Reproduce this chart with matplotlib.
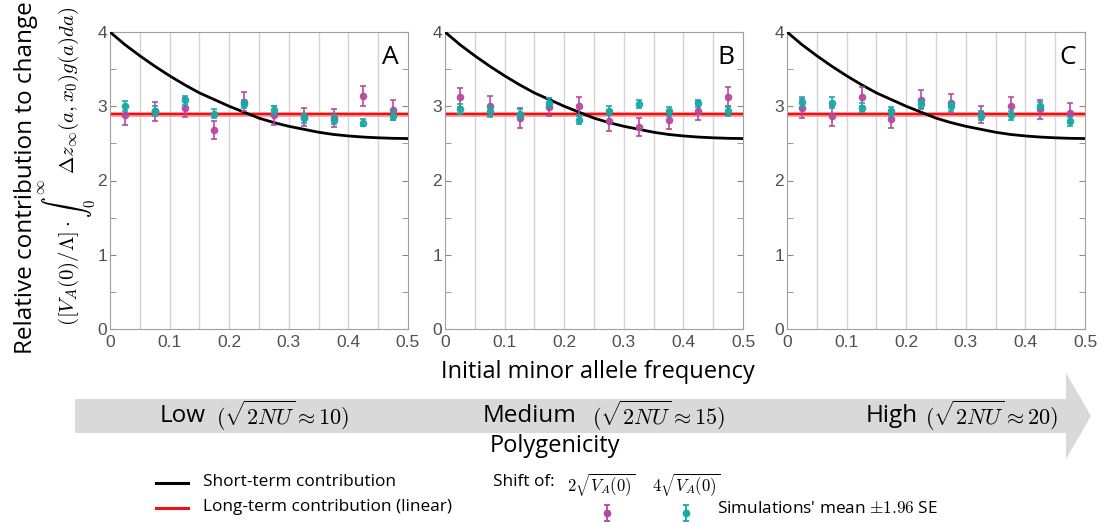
import numpy as np
import matplotlib.pyplot as plt
from matplotlib.patches import Polygon

plt.rcParams['mathtext.fontset'] = 'cm'
plt.rcParams['font.family'] = ['Open Sans', 'DejaVu Sans']

# bin centres of initial minor allele frequency
freq = [0.025, 0.075, 0.125, 0.175, 0.225, 0.275, 0.325, 0.375, 0.425, 0.475]

# short-term contribution curve
curve_x = [0, 0.025, 0.05, 0.075, 0.1, 0.125, 0.15, 0.175, 0.2, 0.225, 0.25,
           0.275, 0.3, 0.325, 0.35, 0.375, 0.4, 0.425, 0.45, 0.475, 0.5]
curve_y = [4.0, 3.83, 3.68, 3.54, 3.41, 3.29, 3.18, 3.09, 3.00, 2.92, 2.84,
           2.78, 2.73, 2.69, 2.65, 2.62, 2.60, 2.585, 2.575, 2.568, 2.565]
long_term = 2.9

# simulations, shift 2*sqrt(VA(0)) (magenta) and 4*sqrt(VA(0)) (teal)
mag_A = [2.88, 2.93, 2.98, 2.68, 3.06, 2.88, 2.86, 2.84, 3.14, 2.95]
teal_A = [3.00, 2.94, 3.08, 2.90, 3.03, 2.95, 2.84, 2.82, 2.78, 2.87]
mag_B = [3.12, 3.01, 2.84, 2.99, 3.00, 2.80, 2.72, 2.81, 2.94, 3.13]
teal_B = [2.96, 2.93, 2.90, 3.05, 2.82, 2.94, 3.03, 2.93, 3.04, 2.93]
mag_C = [2.97, 2.87, 3.13, 2.83, 3.09, 3.04, 2.89, 3.01, 2.96, 2.91]
teal_C = [3.06, 3.05, 2.98, 2.93, 3.03, 3.00, 2.87, 2.88, 3.01, 2.80]
mag_err = [0.13, 0.13, 0.13, 0.12, 0.13, 0.13, 0.12, 0.12, 0.13, 0.13]
teal_err = [0.07, 0.07, 0.06, 0.06, 0.06, 0.06, 0.06, 0.06, 0.05, 0.06]

panels = ['A', 'B', 'C']
mags = [mag_A, mag_B, mag_C]
teals = [teal_A, teal_B, teal_C]

c_mag = '#b5479f'
c_teal = '#16a9a6'

W, H = 1113, 523
fig = plt.figure(figsize=(W / 100, H / 100), dpi=100)

lefts = [110, 445, 787]
axs = []
for left, letter, mg, tl in zip(lefts, panels, mags, teals):
    ax = fig.add_axes([left / W, 1 - 329 / H, 298 / W, 297 / H])
    for gx in np.arange(0.05, 0.5, 0.05):
        ax.axvline(gx, color='#d4d4d4', lw=1, zorder=0)
    ax.plot(curve_x, curve_y, color='black', lw=2, zorder=3)
    ax.axhline(long_term, color='#ff9a9a', lw=3.4, zorder=2)
    ax.axhline(long_term, color='#ee1111', lw=1.6, zorder=2)
    ax.errorbar(freq, mg, yerr=mag_err, fmt='o', ms=4.5, color=c_mag,
                ecolor=c_mag, elinewidth=1.3, capsize=2, capthick=1.3,
                alpha=0.9, zorder=4)
    ax.errorbar(freq, tl, yerr=teal_err, fmt='o', ms=4.5, color=c_teal,
                ecolor=c_teal, elinewidth=1.3, capsize=2, capthick=1.3,
                alpha=0.9, zorder=5)
    ax.set_xlim(0, 0.5)
    ax.set_ylim(0, 4)
    ax.set_xticks([0, 0.1, 0.2, 0.3, 0.4, 0.5])
    ax.set_xticklabels(['0', '0.1', '0.2', '0.3', '0.4', '0.5'])
    ax.set_yticks([0, 1, 2, 3, 4])
    ax.set_yticks(np.arange(0.5, 4, 1), minor=True)
    ax.tick_params(axis='both', which='both', direction='in', colors='#888888',
                   labelcolor='#505050', labelsize=12.5, right=True, top=False,
                   length=4, pad=2)
    ax.tick_params(axis='x', length=0, pad=4)
    for lbl in ax.get_xticklabels() + ax.get_yticklabels():
        lbl.set_family('Liberation Sans')
    for sp in ax.spines.values():
        sp.set_color('#a0a0a0')
    ax.text(0.97, 0.955, letter, transform=ax.transAxes, ha='right', va='top',
            fontsize=19)
    axs.append(ax)

# overlay in pixel coordinates for the annotations below the panels
lax = fig.add_axes([0, 0, 1, 1], zorder=-1)
lax.set_xlim(0, W)
lax.set_ylim(H, 0)
lax.axis('off')

lax.text(26, 178, 'Relative contribution to change', rotation=90,
         ha='center', va='center', fontsize=17.5)
lax.text(68, 166,
         r'$([V_A(0)/\Lambda]\cdot\int_0^\infty\ \Delta z_\infty(a,x_0)g(a)da)$',
         rotation=90, ha='center', va='center', fontsize=15)

lax.text(598, 372, 'Initial minor allele frequency', ha='center', va='center',
         fontsize=17)

arrow = Polygon([[75, 399], [1066, 399], [1066, 373], [1091, 416],
                 [1066, 459], [1066, 433], [75, 433]],
                closed=True, facecolor='#d9d9d9', edgecolor='none')
lax.add_patch(arrow)
lax.text(160, 416, 'Low', ha='left', va='center', fontsize=17.5)
lax.text(216, 416, r'$(\sqrt{2NU}\approx 10)$', ha='left', va='center', fontsize=16)
lax.text(483, 416, 'Medium', ha='left', va='center', fontsize=17.5)
lax.text(592, 416, r'$(\sqrt{2NU}\approx 15)$', ha='left', va='center', fontsize=16)
lax.text(866, 416, 'High', ha='left', va='center', fontsize=17.5)
lax.text(925, 416, r'$(\sqrt{2NU}\approx 20)$', ha='left', va='center', fontsize=16)
lax.text(555, 446, 'Polygenicity', ha='center', va='center', fontsize=17)

lax.plot([156, 188], [483, 483], color='black', lw=2.2)
lax.plot([156, 188], [508, 508], color='#ee1111', lw=2.2)
lax.text(203, 482, 'Short-term contribution', ha='left', va='center', fontsize=12.4)
lax.text(203, 507, 'Long-term contribution (linear)', ha='left', va='center',
         fontsize=12.4)
lax.text(493, 482, 'Shift of:', ha='left', va='center', fontsize=12.4)
lax.text(567, 485, r'$2\sqrt{V_A(0)}$', ha='left', va='center', fontsize=12)
lax.text(652, 485, r'$4\sqrt{V_A(0)}$', ha='left', va='center', fontsize=12)
lax.errorbar([607], [513], yerr=[[8], [8]], fmt='o', ms=4.5, color=c_mag,
             elinewidth=1.3, capsize=2, capthick=1.3)
lax.errorbar([686], [513], yerr=[[8], [8]], fmt='o', ms=4.5, color=c_teal,
             elinewidth=1.3, capsize=2, capthick=1.3)
lax.text(717, 509, r"Simulations' mean $\pm 1.96$ SE", ha='left', va='center',
         fontsize=12.4)

fig.savefig('out.png', dpi=100)
